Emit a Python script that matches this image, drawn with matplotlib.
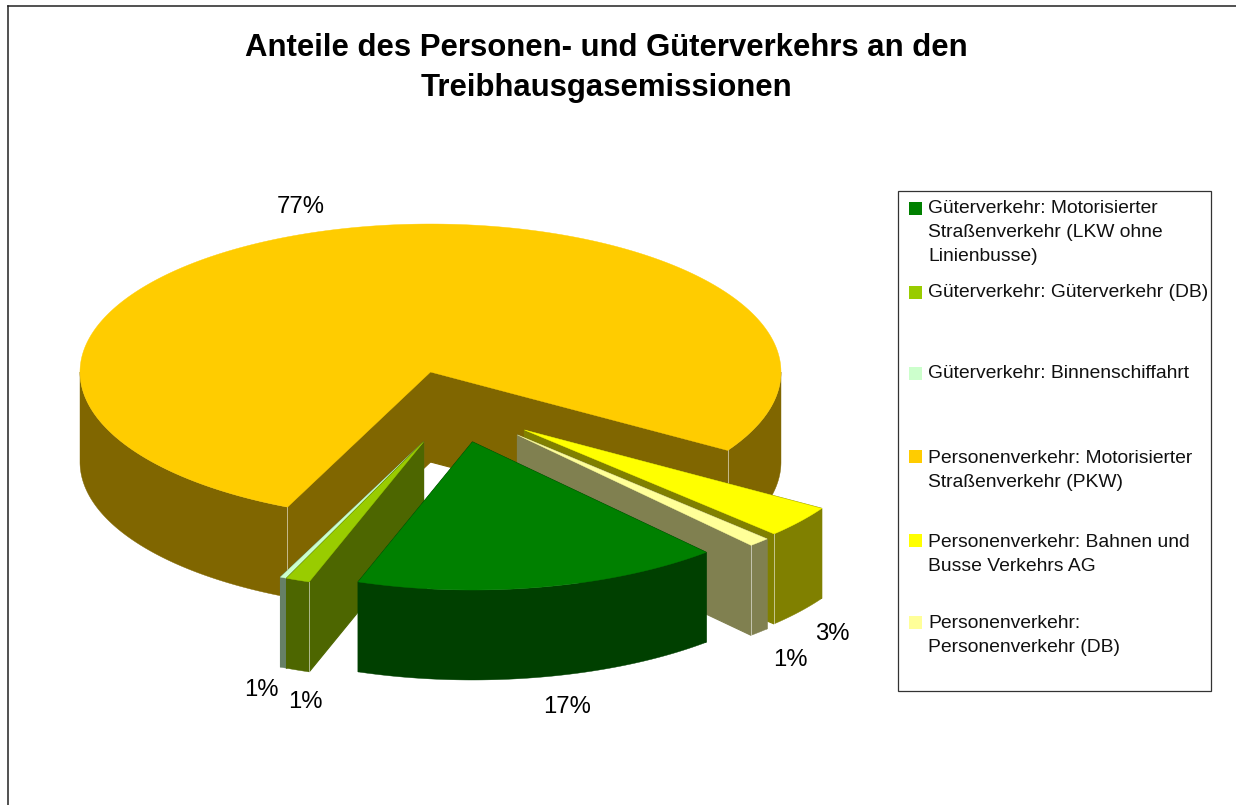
import numpy as np
import matplotlib
matplotlib.use("Agg")
from matplotlib import pyplot as plt
from matplotlib.patches import Polygon, Rectangle

plt.rcParams["font.family"] = ["Liberation Sans", "DejaVu Sans"]

title_text = "Anteile des Personen- und Güterverkehrs an den\nTreibhausgasemissionen"

categories = [
    "Güterverkehr: Motorisierter\nStraßenverkehr (LKW ohne\nLinienbusse)",
    "Güterverkehr: Güterverkehr (DB)",
    "Güterverkehr: Binnenschiffahrt",
    "Personenverkehr: Motorisierter\nStraßenverkehr (PKW)",
    "Personenverkehr: Bahnen und\nBusse Verkehrs AG",
    "Personenverkehr:\nPersonenverkehr (DB)",
]
# shares in percent
shares = [16.9, 1.1, 0.3, 77.2, 3.5, 1.0]
pct_labels = ["17%", "1%", "1%", "77%", "3%", "1%"]

top_colors = ["#008000", "#99CC00", "#CCFFCC", "#FFCC00", "#FFFF00", "#FFFF99"]
side_colors = ["#004000", "#4D6600", "#668066", "#806600", "#808000", "#808050"]

# layout of the fake 3d pie, in image pixels
cx, cy = 430.5, 372
rx, ry = 350.5, 148
depth = 90
start_angle = 138.2
explode = [(42, 70), (-7, 70), (-7, 70), (0, 0), (94, 58), (87, 63)]
paint_order = [3, 4, 5, 2, 1, 0]

label_pos = [(567, 707), (305, 702), (261, 690), (301, 207), (832, 634), (790, 660)]
legend_baseline = [213, 297, 378, 463, 547, 628]
legend_swatch_top = [202, 286, 367, 450, 534, 616]

fig = plt.figure(figsize=(12.36, 8.05), dpi=100)
ax = fig.add_axes([0, 0, 1, 1])
ax.set_xlim(0, 1236)
ax.set_ylim(805, 0)
ax.axis("off")


def rim_point(ax0, ay0, angle):
    # angle runs clockwise from the top of the ellipse
    a = np.radians(angle)
    return ax0 + rx * np.sin(a), ay0 - ry * np.cos(a)


def draw_slice(i, a0, a1):
    ax0 = cx + explode[i][0]
    ay0 = cy + explode[i][1]
    side = side_colors[i]

    # cut faces
    for a in (a0, a1):
        x, y = rim_point(ax0, ay0, a)
        pts = [(ax0, ay0), (x, y), (x, y + depth), (ax0, ay0 + depth)]
        ax.add_patch(Polygon(pts, closed=True, fc=side, ec=side, lw=0.8))

    # outer wall, only the front half of the ellipse shows
    for shift in (0, 360):
        lo = max(a0, 90 + shift)
        hi = min(a1, 270 + shift)
        if hi <= lo:
            continue
        t = np.linspace(lo, hi, 120)
        xs, ys = rim_point(ax0, ay0, t)
        pts = list(zip(xs, ys)) + list(zip(xs[::-1], ys[::-1] + depth))
        ax.add_patch(Polygon(pts, closed=True, fc=side, ec=side, lw=0.3))

    # seams between wall and cut faces, only where the face is in view
    seams = []
    if 180 < a0 % 360 < 270:
        seams.append(a0)
    if 90 < a1 % 360 < 180:
        seams.append(a1)
    for a in seams:
        x, y = rim_point(ax0, ay0, a)
        ax.plot([x, x], [y, y + depth], color="white", lw=0.7, alpha=0.55, zorder=1)

    # top face
    t = np.linspace(a0, a1, 300)
    xs, ys = rim_point(ax0, ay0, t)
    pts = [(ax0, ay0)] + list(zip(xs, ys))
    ax.add_patch(Polygon(pts, closed=True, fc=top_colors[i], ec=top_colors[i], lw=0.3))


bounds = start_angle + np.cumsum([0] + shares) * 3.6
for i in paint_order:
    draw_slice(i, bounds[i], bounds[i + 1])

for i in range(len(pct_labels)):
    ax.text(label_pos[i][0], label_pos[i][1], pct_labels[i], fontsize=17.2,
            ha="center", va="center", color="black")

# chart frame runs off the image at right and bottom
ax.plot([8, 8], [805, 6], color="#222222", lw=1.1)
ax.plot([8, 1236], [6, 6], color="#222222", lw=1.1)

ax.text(606, 68, title_text, fontsize=22.4, fontweight="bold", ha="center",
        va="center", linespacing=1.47, color="black")

# legend box
ax.add_patch(Rectangle((898, 191), 313, 500, fc="white", ec="#333333", lw=0.9))
for i in range(len(categories)):
    ax.add_patch(Rectangle((909, legend_swatch_top[i]), 13, 13, fc=top_colors[i], ec="none"))
    for j, line in enumerate(categories[i].split("\n")):
        ax.text(928, legend_baseline[i] + j * 24, line, fontsize=13.9,
                ha="left", va="baseline", color="#111111")

fig.savefig("out.png", dpi=100)
